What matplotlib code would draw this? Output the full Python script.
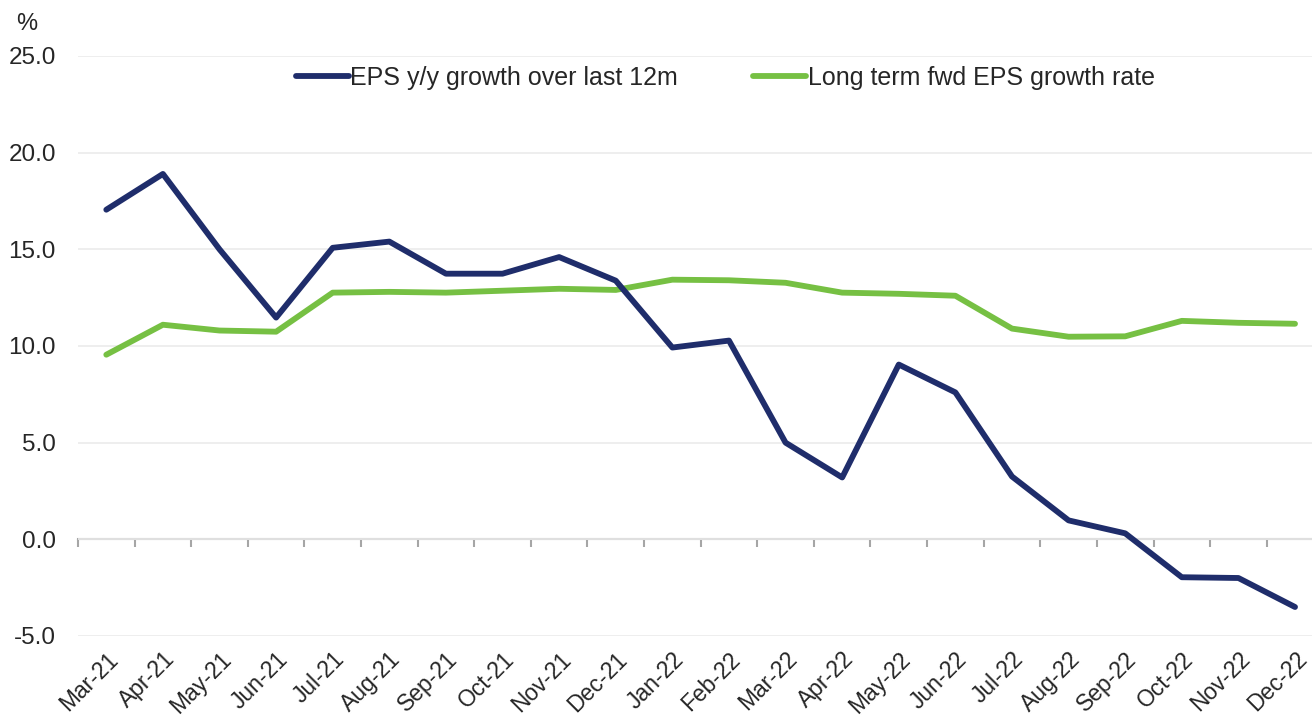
import matplotlib
matplotlib.use("Agg")
import matplotlib.pyplot as plt
from matplotlib.ticker import FixedLocator, FormatStrFormatter

months = ["Mar-21", "Apr-21", "May-21", "Jun-21", "Jul-21", "Aug-21", "Sep-21", "Oct-21",
          "Nov-21", "Dec-21", "Jan-22", "Feb-22", "Mar-22", "Apr-22", "May-22", "Jun-22",
          "Jul-22", "Aug-22", "Sep-22", "Oct-22", "Nov-22", "Dec-22"]
eps_growth = [17.05, 18.9, 15.0, 11.47, 15.08, 15.4, 13.74, 13.74, 14.6, 13.38, 9.92, 10.28,
              5.0, 3.2, 9.04, 7.6, 3.25, 0.98, 0.31, -1.96, -2.0, -3.5]
lt_growth = [9.55, 11.1, 10.8, 10.74, 12.76, 12.8, 12.76, 12.86, 12.96, 12.9, 13.43, 13.4,
             13.27, 12.76, 12.7, 12.6, 10.9, 10.48, 10.5, 11.3, 11.2, 11.15]
series_names = ["EPS y/y growth over last 12m", "Long term fwd EPS growth rate"]
yticks = [-5, 0, 5, 10, 15, 20, 25]

plt.rcParams['font.family'] = ['Liberation Sans', 'DejaVu Sans']
txt = '#262626'

fig = plt.figure(figsize=(13.12, 7.24), dpi=100)
ax = fig.add_axes([78/1312, 88/724, 1 - 78/1312, 580/724])

x = list(range(len(months)))
ax.plot(x, eps_growth, color='#1F2D6B', lw=4.2, solid_capstyle='round', label=series_names[0], zorder=3)
ax.plot(x, lt_growth, color='#76C043', lw=4.2, solid_capstyle='round', label=series_names[1], zorder=2)

ax.set_ylim(-5, 25)
ax.set_xlim(-0.5, len(months) - 0.7)
ax.yaxis.set_major_locator(FixedLocator(yticks))
ax.yaxis.set_major_formatter(FormatStrFormatter('%.1f'))
ax.grid(axis='y', color='#EBEBEB', lw=1.2, zorder=0)
ax.tick_params(axis='y', length=0, labelsize=17.5, labelcolor=txt, pad=16)

for s in ['top', 'right', 'left']:
    ax.spines[s].set_visible(False)
ax.spines['bottom'].set_position(('data', 0))
ax.spines['bottom'].set_color('#A6A6A6')
ax.spines['bottom'].set_linewidth(1.5)
ax.spines['bottom'].set_zorder(1)

ax.set_xticks(x)
ax.set_xticklabels(months, rotation=45, ha='right', rotation_mode='anchor')
ax.set_xticks([i - 0.5 for i in x], minor=True)
ax.tick_params(axis='x', which='major', length=0, labelsize=16.5, labelcolor=txt, pad=78)
ax.tick_params(axis='x', which='minor', length=6, width=1.5, color='#A6A6A6', direction='out')

leg = ax.legend(loc='upper left', bbox_to_anchor=(208/1234, 1.0), ncol=2, frameon=False,
                fontsize=18, handlelength=2.1, handletextpad=0.08, columnspacing=3.0,
                labelcolor=txt, borderaxespad=0.0)

fig.text(27/1312, 1 - 24/724, '%', fontsize=17, color=txt, ha='center', va='center')

fig.savefig('out.png', dpi=100)
